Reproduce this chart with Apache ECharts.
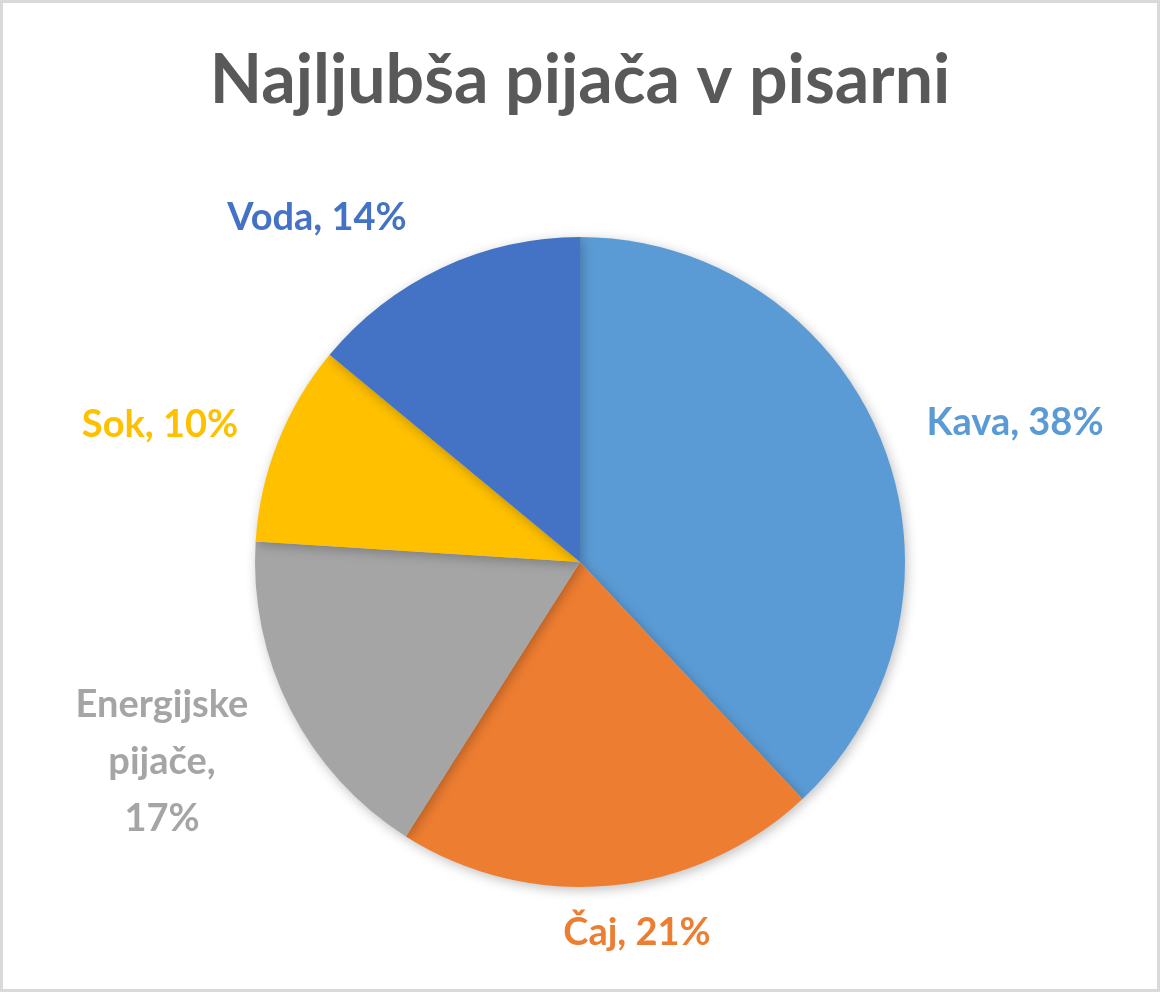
<!DOCTYPE html>
<html>
<head>
<meta charset="utf-8">
<script src="https://cdn.jsdelivr.net/npm/echarts@6/dist/echarts.min.js"></script>
<style>
  html, body { margin: 0; padding: 0; background: #fff; }
  #chart { width: 1154px; height: 986px; border: 3px solid #d9d9d9; }
</style>
</head>
<body>
<div id="chart"></div>
<script>
// 数据
var categories = ['Kava', 'Čaj', 'Energijske\npijače', 'Sok', 'Voda'];
var values = [38, 21, 17, 10, 14];
var colors = ['#5b9bd5', '#ed7d31', '#a5a5a5', '#ffc000', '#4472c4'];
// 标签中心位置 (Excel 的最佳位置)
var labelPos = [[1012, 420], [634, 930], [159, 759], [157, 422], [314, 215]];

var chart = echarts.init(document.getElementById('chart'));

var pieData = categories.map(function (name, i) {
  return {
    name: name,
    value: values[i],
    itemStyle: { color: colors[i] },
    label: { color: colors[i] }
  };
});

var option = {
  title: {
    text: 'Najljubša pijača v pisarni',
    left: 'center',
    top: 39,
    textStyle: {
      fontFamily: 'Lato',
      fontWeight: 'bold',
      fontSize: 68,
      color: '#595959'
    }
  },
  series: [
    {
      type: 'pie',
      center: [577, 559],
      radius: 325,
      startAngle: 90,
      clockwise: true,
      avoidLabelOverlap: false,
      itemStyle: {
        shadowBlur: 12,
        shadowColor: 'rgba(0,0,0,0.25)',
        shadowOffsetX: 2,
        shadowOffsetY: 3
      },
      label: {
        show: true,
        position: 'outside',
        fontFamily: 'Lato',
        fontWeight: 'bold',
        fontSize: 38,
        lineHeight: 57,
        formatter: function (p) {
          return p.name + ',' + (p.name.indexOf('\n') >= 0 ? '\n' : ' ') + p.value + '%';
        }
      },
      labelLine: { show: false },
      labelLayout: function (params) {
        var pos = labelPos[params.dataIndex];
        return { x: pos[0], y: pos[1], align: 'center', verticalAlign: 'middle' };
      },
      data: pieData
    }
  ]
};

chart.setOption(option);
</script>
</body>
</html>
